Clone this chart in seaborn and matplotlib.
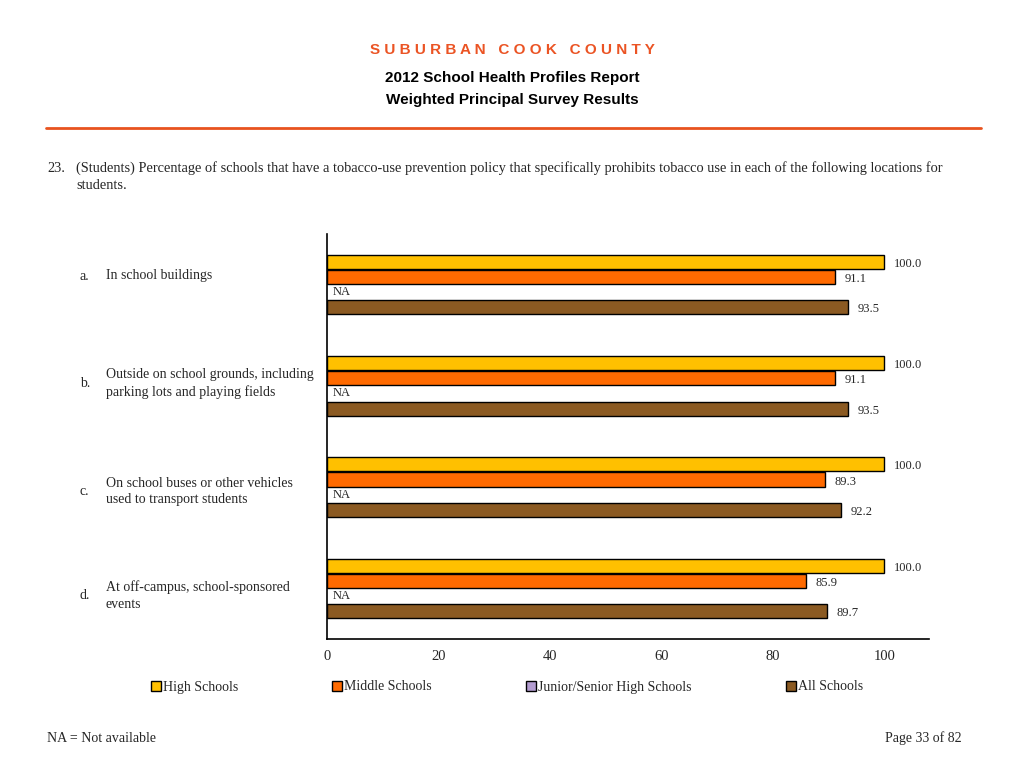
import numpy as np
import pandas as pd
import seaborn as sns
import matplotlib.pyplot as plt
from matplotlib.patches import Patch

# ---- data ----
items = ["a", "b", "c", "d"]
item_labels = [
    "In school buildings",
    "Outside on school grounds, including\nparking lots and playing fields",
    "On school buses or other vehicles\nused to transport students",
    "At off-campus, school-sponsored\nevents",
]
groups = ["High Schools", "Middle Schools", "Junior/Senior High Schools", "All Schools"]
high_schools = [100.0, 100.0, 100.0, 100.0]
middle_schools = [91.1, 91.1, 89.3, 85.9]
junior_senior = [np.nan, np.nan, np.nan, np.nan]
all_schools = [93.5, 93.5, 92.2, 89.7]
colors = ["#FFC000", "#FF6A00", "#B39CD0", "#8B5A22"]

rows = []
for g, vals in zip(groups, [high_schools, middle_schools, junior_senior, all_schools]):
    for it, v in zip(items, vals):
        rows.append({"item": it, "group": g, "value": v})
df = pd.DataFrame(rows)

sns.set_style("white")
serif = ["Liberation Serif", "DejaVu Serif"]
sans = ["Liberation Sans", "DejaVu Sans"]

fig = plt.figure(figsize=(10.24, 7.68), dpi=100)
ax = fig.add_axes([327 / 1024, 1 - 639 / 768, (929 - 327) / 1024, (639 - 234) / 768])

sns.barplot(data=df.dropna(), y="item", x="value", hue="group", hue_order=groups,
            order=items, palette=colors, saturation=1, orient="h", width=0.6, gap=0.07,
            edgecolor="black", linewidth=1, ax=ax, legend=False)

ax.set_xlim(0, 108)
ax.set_ylim(3.5, -0.5)
ax.set_xticks([0, 20, 40, 60, 80, 100])
ax.set_xticklabels(["0", "20", "40", "60", "80", "100"], fontfamily=serif, fontsize=10.5)
ax.set_yticks([])
ax.set_xlabel("")
ax.set_ylabel("")
ax.tick_params(axis="x", direction="out", length=5, width=1, color="black", pad=3)
for s in ["top", "right"]:
    ax.spines[s].set_visible(False)
for s in ["left", "bottom"]:
    ax.spines[s].set_color("black")
    ax.spines[s].set_linewidth(1.2)

# value labels (sit a touch below the bar centre, as in the original)
for cont in ax.containers:
    labs = ax.bar_label(cont, fmt="%.1f", padding=7, fontsize=9, fontfamily=serif)
    for t in labs:
        t.xyann = (7, -1.5)

# NA labels for missing series
hue_w = 0.6 / len(groups)
for k, vals in enumerate([high_schools, middle_schools, junior_senior, all_schools]):
    for i, v in enumerate(vals):
        if np.isnan(v):
            ax.text(1, i + (k - 1.5) * hue_w, "NA", fontsize=9, fontfamily=serif,
                    va="center", ha="left")

# category labels
label_y = [276, 383.5, 491.5, 595.5]
for it, lab, y in zip(items, item_labels, label_y):
    fig.text(80 / 1024, 1 - y / 768, it + ".", fontsize=10, fontfamily=serif,
             va="center", ha="left")
    fig.text(106 / 1024, 1 - y / 768, lab, fontsize=10, fontfamily=serif,
             va="center", ha="left", linespacing=1.35)

# header
fig.text(0.5, 1 - 50 / 768, "   ".join(" ".join(w) for w in "SUBURBAN COOK COUNTY".split()),
         color="#EB5424", fontsize=11, fontweight="bold", fontfamily=sans,
         ha="center", va="center")
fig.text(0.5, 1 - 78 / 768, "2012 School Health Profiles Report", fontsize=11,
         fontweight="bold", fontfamily=sans, ha="center", va="center", color="black")
fig.text(0.5, 1 - 100 / 768, "Weighted Principal Survey Results", fontsize=11,
         fontweight="bold", fontfamily=sans, ha="center", va="center", color="black")
fig.add_artist(plt.Line2D([46 / 1024, 981 / 1024], [1 - 128 / 768] * 2,
                          color="#E8531F", linewidth=2))

# question
fig.text(47 / 1024, 1 - 168 / 768, "23.", fontsize=10.4, fontfamily=serif, va="center")
fig.text(76 / 1024, 1 - 176.5 / 768,
         "(Students) Percentage of schools that have a tobacco-use prevention policy that "
         "specifically prohibits tobacco use in each of the following locations for\nstudents.",
         fontsize=10.4, fontfamily=serif, va="center", linespacing=1.35)

# legend
handles = [Patch(facecolor=c, edgecolor="black", linewidth=1) for c in colors]
fig.legend(handles, groups, loc="center", bbox_to_anchor=(0.495, 1 - 687 / 768), ncol=4,
           frameon=False, prop={"family": serif, "size": 10}, handlelength=0.7,
           handleheight=0.7, handletextpad=0.15, columnspacing=6.8)

# footer
fig.text(47 / 1024, 1 - 738 / 768, "NA = Not available", fontsize=10, fontfamily=serif,
         va="center")
fig.text(962 / 1024, 1 - 738 / 768, "Page 33 of 82", fontsize=10, fontfamily=serif,
         va="center", ha="right")

fig.savefig("out.png", dpi=100)
